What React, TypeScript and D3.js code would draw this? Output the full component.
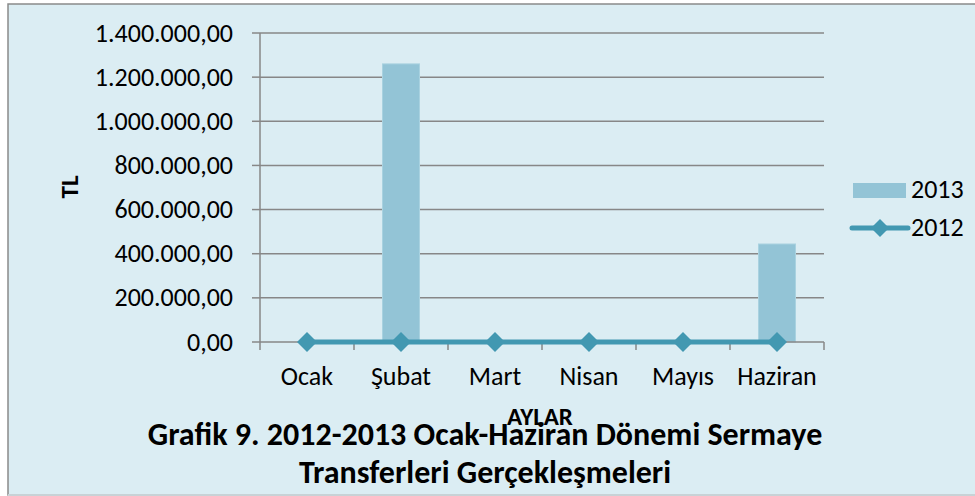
import React from 'react';
import * as d3 from 'd3';

const months = ['Ocak', 'Şubat', 'Mart', 'Nisan', 'Mayıs', 'Haziran'];
const values2013 = [0, 1260000, 0, 0, 0, 444000];
const values2012 = [0, 0, 0, 0, 0, 0];
const yTicks = [0, 200000, 400000, 600000, 800000, 1000000, 1200000, 1400000];
const titleLines = ['Grafik 9. 2012-2013 Ocak-Haziran Dönemi Sermaye', 'Transferleri Gerçekleşmeleri'];

const W = 975,
  H = 496;
const plot = { left: 260, right: 824, top: 33, bottom: 342 };
const font = "Calibri, Carlito, 'Liberation Sans', Arial, sans-serif";

const fmt = (v: number) => {
  const s = d3.format(',.2f')(v);
  return s.replace(/,/g, '#').replace('.', ',').replace(/#/g, '.');
};

export default function App() {
  const x = d3.scaleBand().domain(months).range([plot.left, plot.right]);
  const y = d3.scaleLinear().domain([0, 1400000]).range([plot.bottom, plot.top]);
  const barW = 37;
  const line = d3
    .line<number>()
    .x((d, i) => x(months[i])! + x.bandwidth() / 2)
    .y(d => y(d));
  const diamondSq = (cx: number, cy: number, r: number) =>
    `M${cx},${cy - r}L${cx + r},${cy}L${cx},${cy + r}L${cx - r},${cy}Z`;

  return (
    <svg width={W} height={H} style={{ position: 'absolute', left: 0, top: 0 }}>
      <rect x={0} y={0} width={W} height={H} fill="#ffffff" />
      <rect x={8} y={4} width={W} height={H - 5} fill="#dbedf3" stroke="#8a8a8a" strokeWidth={1.5} />
      <line x1={8} x2={W} y1={H - 1} y2={H - 1} stroke="#c8d2d6" strokeWidth={2} />

      {/* gridlines + y labels */}
      {yTicks.map(t => (
        <g key={t}>
          {t > 0 && <line x1={plot.left} x2={plot.right} y1={y(t)} y2={y(t)} stroke="#878787" strokeWidth={1.5} />}
          <line x1={plot.left - 8} x2={plot.left} y1={y(t)} y2={y(t)} stroke="#878787" strokeWidth={1.5} />
          <text x={233} y={y(t) + 8.5} textAnchor="end" style={{ fontFamily: font, fontSize: 26, fill: '#000' }}>
            {fmt(t)}
          </text>
        </g>
      ))}
      <line x1={plot.left} x2={plot.left} y1={plot.top} y2={plot.bottom} stroke="#878787" strokeWidth={1.5} />

      {/* bars 2013 */}
      {values2013.map((v, i) =>
        v > 0 ? (
          <rect
            key={i}
            x={x(months[i])! + x.bandwidth() / 2 - barW / 2}
            y={y(v)}
            width={barW}
            height={y(0) - y(v)}
            fill="#93c4d6"
            stroke="#a9d2e0"
            strokeWidth={1}
          />
        ) : null
      )}

      {/* x axis */}
      <line x1={plot.left} x2={plot.right} y1={plot.bottom} y2={plot.bottom} stroke="#878787" strokeWidth={1.5} />
      {d3.range(months.length + 1).map(i => {
        const xx = plot.left + i * x.bandwidth();
        return <line key={i} x1={xx} x2={xx} y1={plot.bottom} y2={plot.bottom + 8} stroke="#878787" strokeWidth={1.5} />;
      })}
      {months.map(m => (
        <text
          key={m}
          x={x(m)! + x.bandwidth() / 2}
          y={385}
          textAnchor="middle"
          style={{ fontFamily: font, fontSize: 26, fill: '#000' }}
        >
          {m}
        </text>
      ))}

      {/* 2012 line */}
      <path d={line(values2012)!} fill="none" stroke="#4298b1" strokeWidth={5} />
      {values2012.map((v, i) => (
        <path key={i} d={diamondSq(x(months[i])! + x.bandwidth() / 2, y(v), 10)} fill="#4298b1" />
      ))}

      {/* axis titles */}
      <text
        transform="translate(78,187) rotate(-90)"
        textAnchor="middle"
        style={{ fontFamily: font, fontSize: 25, fontWeight: 'bold', fill: '#000' }}
      >
        TL
      </text>
      <text
        x={540}
        y={425}
        textAnchor="middle"
        style={{ fontFamily: font, fontSize: 25, fontWeight: 'bold', fill: '#000' }}
      >
        AYLAR
      </text>
      {titleLines.map((t, i) => (
        <text
          key={i}
          x={485}
          y={445 + i * 38}
          textAnchor="middle"
          style={{ fontFamily: font, fontSize: 32, fontWeight: 'bold', fill: '#000' }}
        >
          {t}
        </text>
      ))}

      {/* legend */}
      <rect x={853} y={183} width={53} height={15} fill="#93c4d6" />
      <text x={911} y={198} style={{ fontFamily: font, fontSize: 26, fill: '#000' }}>
        2013
      </text>
      <line x1={852} x2={908} y1={228} y2={228} stroke="#4298b1" strokeWidth={5} strokeLinecap="round" />
      <path d={diamondSq(880, 228, 9)} fill="#4298b1" />
      <text x={911} y={236} style={{ fontFamily: font, fontSize: 26, fill: '#000' }}>
        2012
      </text>
    </svg>
  );
}
